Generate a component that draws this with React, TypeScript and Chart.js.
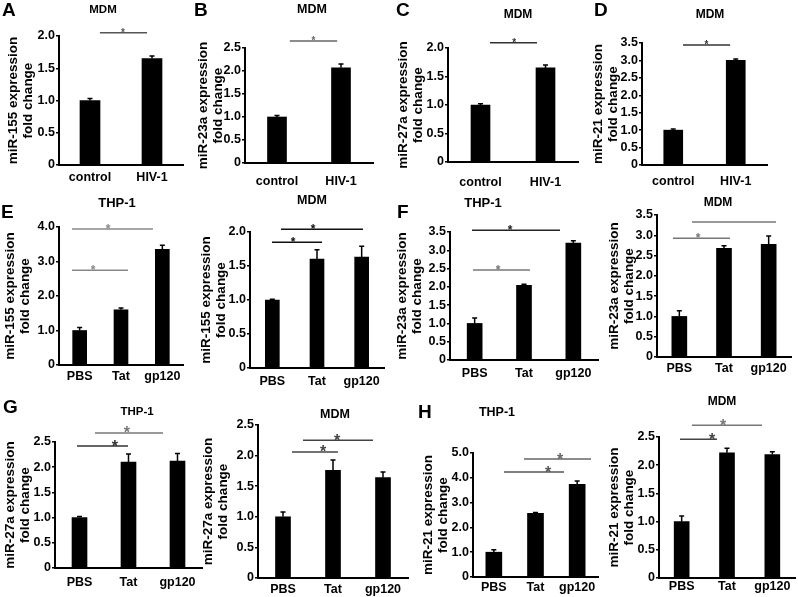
import React, { useEffect, useRef } from 'react';
import { Chart, registerables } from 'chart.js';

Chart.register(...registerables);

const FONT = '"Liberation Sans", Arial, Helvetica, sans-serif';

// ---- categories ----
const hivCategories = ['control', 'HIV-1'];
const stimCategories = ['PBS', 'Tat', 'gp120'];

// ---- A-D : MDM, control vs HIV-1 ----
const a155 = [1.0, 1.65];
const a155Err = [0.03, 0.04];
const b23a = [1.0, 2.07];
const b23aErr = [0.03, 0.08];
const c27a = [1.0, 1.65];
const c27aErr = [0.02, 0.05];
const d21 = [1.0, 3.0];
const d21Err = [0.03, 0.04];

// ---- E-H : PBS / Tat / gp120 ----
const eThp155 = [1.0, 1.6, 3.35];
const eThp155Err = [0.09, 0.05, 0.12];
const eMdm155 = [1.0, 1.6, 1.63];
const eMdm155Err = [0.01, 0.14, 0.16];
const fThp23a = [1.0, 2.04, 3.2];
const fThp23aErr = [0.15, 0.03, 0.06];
const fMdm23a = [1.0, 2.68, 2.78];
const fMdm23aErr = [0.14, 0.06, 0.2];
const gThp27a = [1.0, 2.1, 2.12];
const gThp27aErr = [0.02, 0.16, 0.15];
const gMdm27a = [1.0, 1.76, 1.64];
const gMdm27aErr = [0.08, 0.17, 0.09];
const hThp21 = [1.0, 2.57, 3.74];
const hThp21Err = [0.1, 0.03, 0.13];
const hMdm21 = [1.0, 2.22, 2.19];
const hMdm21Err = [0.1, 0.08, 0.05];

type Bracket = { from: number; to: number; y: number; star: number | null; color: string };

type Panel = {
  key: string;
  cats: string[];
  values: number[];
  errs: number[];
  yMax: number;
  yStep: number;
  yTitle: string[];
  title: string;
  titleX: number;
  titleY: number;
  titleSize: number;
  top: number;
  axisX: number;
  axisW: number;
  yTop: number;
  yZero: number;
  yTitleX: number;
  bar: number;
  xPad: number;
  starSize: number;
  brackets: Bracket[];
};

const panels: Panel[] = [
  {
    key: 'A', cats: hivCategories, values: a155, errs: a155Err, yMax: 2, yStep: 0.5,
    yTitle: ['miR-155 expression', 'fold change'], title: 'MDM', titleX: 103, titleY: 10, titleSize: 11.5,
    top: 0, axisX: 59, axisW: 124, yTop: 36, yZero: 165, yTitleX: 13, bar: 20, xPad: 5.5, starSize: 10,
    brackets: [{ from: 0.16, to: 0.92, y: 2.05, star: 0.53, color: '#555' }],
  },
  {
    key: 'B', cats: hivCategories, values: b23a, errs: b23aErr, yMax: 2.5, yStep: 0.5,
    yTitle: ['miR-23a expression', 'fold change'], title: 'MDM', titleX: 312, titleY: 10, titleSize: 12.5,
    top: 0, axisX: 245, axisW: 128, yTop: 48, yZero: 163, yTitleX: 203, bar: 19, xPad: 11.5, starSize: 10,
    brackets: [{ from: 0.2, to: 0.94, y: 2.65, star: 0.57, color: '#666' }],
  },
  {
    key: 'C', cats: hivCategories, values: c27a, errs: c27aErr, yMax: 2, yStep: 0.5,
    yTitle: ['miR-27a expression', 'fold change'], title: 'MDM', titleX: 518, titleY: 15, titleSize: 12,
    top: 0, axisX: 448, axisW: 130, yTop: 48, yZero: 162, yTitleX: 403, bar: 19, xPad: 13, starSize: 10,
    brackets: [{ from: 0.146, to: 0.87, y: 2.09, star: 0.52, color: '#333' }],
  },
  {
    key: 'D', cats: hivCategories, values: d21, errs: d21Err, yMax: 3.5, yStep: 0.5,
    yTitle: ['miR-21 expression', 'fold change'], title: 'MDM', titleX: 710, titleY: 15, titleSize: 12,
    top: 0, axisX: 642, axisW: 125, yTop: 43, yZero: 165, yTitleX: 598, bar: 19, xPad: 9, starSize: 10,
    brackets: [{ from: 0.156, to: 0.91, y: 3.44, star: 0.53, color: '#333' }],
  },
  {
    key: 'E1', cats: stimCategories, values: eThp155, errs: eThp155Err, yMax: 4, yStep: 1,
    yTitle: ['miR-155 expression', 'fold change'], title: 'THP-1', titleX: 117, titleY: 203, titleSize: 13,
    top: 188, axisX: 59, axisW: 124, yTop: 227, yZero: 365, yTitleX: 10, bar: 14, xPad: 4, starSize: 12,
    brackets: [
      { from: -0.185, to: 1.774, y: 3.94, star: 0.685, color: '#888' },
      { from: -0.185, to: 1.169, y: 2.75, star: 0.323, color: '#888' },
    ],
  },
  {
    key: 'E2', cats: stimCategories, values: eMdm155, errs: eMdm155Err, yMax: 2, yStep: 0.5,
    yTitle: ['miR-155 expression', 'fold change'], title: 'MDM', titleX: 312, titleY: 201, titleSize: 12.5,
    top: 188, axisX: 250, axisW: 134, yTop: 232, yZero: 368, yTitleX: 206, bar: 14, xPad: 6, starSize: 12,
    brackets: [
      { from: 0.194, to: 2.03, y: 2.04, star: 0.91, color: '#111' },
      { from: -0.0075, to: 1.112, y: 1.85, star: 0.463, color: '#111' },
    ],
  },
  {
    key: 'F1', cats: stimCategories, values: fThp23a, errs: fThp23aErr, yMax: 3.5, yStep: 0.5,
    yTitle: ['miR-23a expression', 'fold change'], title: 'THP-1', titleX: 483, titleY: 203, titleSize: 13,
    top: 188, axisX: 450, axisW: 148, yTop: 232, yZero: 360, yTitleX: 402, bar: 15, xPad: 6, starSize: 12,
    brackets: [
      { from: -0.054, to: 1.73, y: 3.55, star: 0.716, color: '#222' },
      { from: -0.034, to: 1.12, y: 2.46, star: 0.473, color: '#777' },
    ],
  },
  {
    key: 'F2', cats: stimCategories, values: fMdm23a, errs: fMdm23aErr, yMax: 3.5, yStep: 0.5,
    yTitle: ['miR-23a expression', 'fold change'], title: 'MDM', titleX: 718, titleY: 203, titleSize: 12,
    top: 188, axisX: 657, axisW: 134, yTop: 215, yZero: 357, yTitleX: 614, bar: 15, xPad: 4, starSize: 12,
    brackets: [
      { from: 0.284, to: 2.164, y: 3.33, star: null, color: '#777' },
      { from: -0.142, to: 1.134, y: 2.93, star: 0.418, color: '#777' },
    ],
  },
  {
    key: 'G1', cats: stimCategories, values: gThp27a, errs: gThp27aErr, yMax: 2.5, yStep: 0.5,
    yTitle: ['miR-27a expression', 'fold change'], title: 'THP-1', titleX: 137, titleY: 412, titleSize: 11.5,
    top: 392, axisX: 55, axisW: 147, yTop: 442, yZero: 568, yTitleX: 10, bar: 15, xPad: 7, starSize: 16,
    brackets: [
      { from: 0.316, to: 1.704, y: 2.68, star: 0.969, color: '#777' },
      { from: -0.051, to: 0.99, y: 2.42, star: 0.724, color: '#333' },
    ],
  },
  {
    key: 'G2', cats: stimCategories, values: gMdm27a, errs: gMdm27aErr, yMax: 2.5, yStep: 0.5,
    yTitle: ['miR-27a expression', 'fold change'], title: 'MDM', titleX: 335, titleY: 415, titleSize: 12.5,
    top: 392, axisX: 258, axisW: 150, yTop: 425, yZero: 578, yTitleX: 208, bar: 15, xPad: 4.5, starSize: 16,
    brackets: [
      { from: 0.4, to: 1.8, y: 2.25, star: 1.08, color: '#444' },
      { from: 0.18, to: 1.1, y: 2.06, star: 0.8, color: '#444' },
    ],
  },
  {
    key: 'H1', cats: stimCategories, values: hThp21, errs: hThp21Err, yMax: 5, yStep: 1,
    yTitle: ['miR-21 expression', 'fold change'], title: 'THP-1', titleX: 497, titleY: 413, titleSize: 12.5,
    top: 392, axisX: 473, axisW: 125, yTop: 453, yZero: 577, yTitleX: 428, bar: 16, xPad: 3, starSize: 16,
    brackets: [
      { from: 0.724, to: 2.332, y: 4.76, star: 1.588, color: '#666' },
      { from: 0.244, to: 1.684, y: 4.23, star: 1.3, color: '#555' },
    ],
  },
  {
    key: 'H2', cats: stimCategories, values: hMdm21, errs: hMdm21Err, yMax: 2.5, yStep: 0.5,
    yTitle: ['miR-21 expression', 'fold change'], title: 'MDM', titleX: 722, titleY: 402, titleSize: 12,
    top: 392, axisX: 659, axisW: 136, yTop: 437, yZero: 578, yTitleX: 614, bar: 15, xPad: 1.5, starSize: 16,
    brackets: [
      { from: 0.228, to: 1.772, y: 2.71, star: 0.912, color: '#777' },
      { from: -0.037, to: 0.779, y: 2.46, star: 0.669, color: '#444' },
    ],
  },
];

const letters = [
  { t: 'A', x: 2, y: 0 },
  { t: 'B', x: 194, y: 0 },
  { t: 'C', x: 396, y: 0 },
  { t: 'D', x: 594, y: 0 },
  { t: 'E', x: 1, y: 202 },
  { t: 'F', x: 397, y: 202 },
  { t: 'G', x: 3, y: 397 },
  { t: 'H', x: 418, y: 402 },
];

function PanelChart({ p }: { p: Panel }) {
  const ref = useRef<HTMLCanvasElement>(null);
  const left = p.yTitleX - 10;
  const rightPad = 24;
  const width = p.axisX + p.axisW + rightPad - left;
  const height = p.yZero + 36 - p.top;

  useEffect(() => {
    const canvas = ref.current;
    if (!canvas) return;
    const titleSize = 13.5;
    const titleLH = 15;
    const decor = {
      id: 'decor' + p.key,
      afterDatasetsDraw(chart: any) {
        const ctx = chart.ctx as CanvasRenderingContext2D;
        const xs = chart.scales.x;
        const ys = chart.scales.y;
        const meta = chart.getDatasetMeta(0);
        ctx.save();
        // error bars
        ctx.strokeStyle = '#000';
        ctx.lineWidth = 1.5;
        meta.data.forEach((el: any, i: number) => {
          const x = el.x;
          const yv = ys.getPixelForValue(p.values[i]);
          const ye = ys.getPixelForValue(p.values[i] + p.errs[i]);
          ctx.beginPath();
          ctx.moveTo(x, yv);
          ctx.lineTo(x, ye);
          ctx.moveTo(x - 2.5, ye);
          ctx.lineTo(x + 2.5, ye);
          ctx.stroke();
        });
        // significance brackets
        p.brackets.forEach((b) => {
          const xa = xs.getPixelForValue(b.from);
          const xb = xs.getPixelForValue(b.to);
          const y = ys.getPixelForValue(b.y);
          ctx.strokeStyle = b.color;
          ctx.lineWidth = 1.5;
          ctx.beginPath();
          ctx.moveTo(xa, y);
          ctx.lineTo(xb, y);
          ctx.stroke();
          if (b.star !== null) {
            ctx.fillStyle = b.color;
            ctx.font = `bold ${p.starSize}px ${FONT}`;
            ctx.textAlign = 'center';
            ctx.textBaseline = 'alphabetic';
            ctx.fillText('*', xs.getPixelForValue(b.star), y + p.starSize * 0.41 - 1);
          }
        });
        // panel title
        ctx.fillStyle = '#000';
        ctx.font = `bold ${p.titleSize}px ${FONT}`;
        ctx.textAlign = 'center';
        ctx.textBaseline = 'middle';
        ctx.fillText(p.title, p.titleX - left, p.titleY - p.top);
        ctx.restore();
      },
    };

    const xHeight = height - (p.yZero - p.top);
    const yWidth = p.axisX - left;

    const chart = new Chart(canvas, {
      type: 'bar',
      data: {
        labels: p.cats,
        datasets: [
          {
            data: p.values,
            backgroundColor: '#000',
            borderWidth: 0,
            barThickness: p.bar,
          },
        ],
      },
      options: {
        animation: false,
        responsive: false,
        maintainAspectRatio: false,
        devicePixelRatio: 1,
        layout: { padding: { top: p.yTop - p.top, right: rightPad, left: 0, bottom: 0 } },
        plugins: {
          legend: { display: false },
          tooltip: { enabled: false },
          title: { display: false },
        },
        scales: {
          x: {
            type: 'category',
            offset: true,
            grid: { display: false, drawTicks: false, tickLength: 0 },
            border: { display: true, color: '#000', width: 2 },
            ticks: {
              color: '#000',
              font: { family: FONT, size: 12.5, weight: 'bold' },
              padding: p.xPad,
              maxRotation: 0,
              autoSkip: false,
            },
            afterFit: (s: any) => {
              s.height = xHeight;
            },
          },
          y: {
            type: 'linear',
            min: 0,
            max: p.yMax,
            grid: { drawOnChartArea: false, drawTicks: true, tickLength: 3, color: '#000', lineWidth: 1.5 },
            border: { display: true, color: '#000', width: 2 },
            ticks: {
              stepSize: p.yStep,
              autoSkip: false,
              color: '#000',
              padding: 1,
              font: { family: FONT, size: 12.5, weight: 'bold' },
              callback: (v: any) => (Number(v) === 0 ? '0' : Number(v).toFixed(1)),
            },
            title: {
              display: true,
              text: p.yTitle,
              color: '#000',
              font: { family: FONT, size: titleSize, weight: 'bold', lineHeight: titleLH / titleSize },
              padding: { top: 10 - titleLH / 2, bottom: 0 },
            },
            afterFit: (s: any) => {
              s.width = yWidth;
            },
          },
        },
      } as any,
      plugins: [decor],
    });
    return () => chart.destroy();
  }, []);

  return (
    <canvas
      ref={ref}
      width={width}
      height={height}
      style={{ position: 'absolute', left, top: p.top, width, height }}
    />
  );
}

export default function App() {
  return (
    <div
      style={{
        position: 'absolute',
        left: 0,
        top: 0,
        width: 798,
        height: 597,
        background: '#fff',
        overflow: 'hidden',
      }}
    >
      {panels.map((p) => (
        <PanelChart key={p.key} p={p} />
      ))}
      {letters.map((l) => (
        <div
          key={l.t}
          style={{
            position: 'absolute',
            left: l.x,
            top: l.y,
            font: `bold 19px ${FONT}`,
            lineHeight: '1',
            color: '#000',
          }}
        >
          {l.t}
        </div>
      ))}
    </div>
  );
}
